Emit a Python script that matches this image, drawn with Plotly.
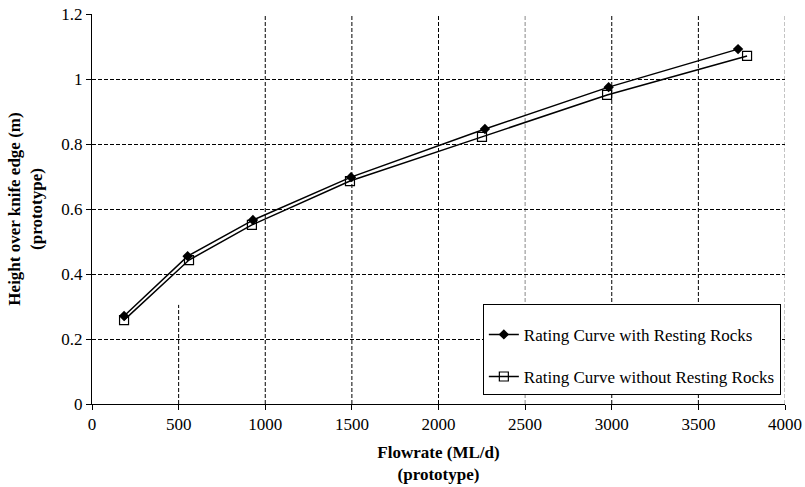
import plotly.graph_objects as go

# Rating curve measurements (prototype scale)
flow_with = [185, 552, 929, 1495, 2268, 2982, 3729]
height_with = [0.271, 0.455, 0.566, 0.698, 0.846, 0.975, 1.092]

flow_without = [185, 560, 923, 1489, 2251, 2973, 3781]
height_without = [0.258, 0.443, 0.551, 0.686, 0.822, 0.951, 1.071]

x_ticks = [0, 500, 1000, 1500, 2000, 2500, 3000, 3500, 4000]
y_ticks = [0, 0.2, 0.4, 0.6, 0.8, 1.0, 1.2]
y_tick_text = ["0", "0.2", "0.4", "0.6", "0.8", "1", "1.2"]

FONT = "Liberation Serif, Times New Roman, serif"
GRID_DASH = "4px,2px"

fig = go.Figure()
fig.add_trace(go.Scatter(
    x=flow_with, y=height_with, mode="lines+markers",
    name="Rating Curve with Resting Rocks", legendgroup="a",
    line=dict(color="black", width=1.5),
    marker=dict(symbol="diamond", size=8, color="black"),
))
fig.add_trace(go.Scatter(
    x=flow_without, y=height_without, mode="lines+markers",
    name="Rating Curve without Resting Rocks", legendgroup="b",
    line=dict(color="black", width=1.5),
    marker=dict(symbol="square-open", size=9, color="black", line=dict(width=1.2)),
))

# vertical dashed grid lines
for xv in x_ticks[1:]:
    col = "#888" if xv in (2500, 4000) else "black"
    y_top = 0.305 if xv == 500 else 1.2
    fig.add_shape(type="line", xref="x", yref="y", x0=xv, x1=xv, y0=0, y1=y_top,
                  line=dict(color=col, width=1, dash=GRID_DASH), layer="below")

fig.update_layout(
    width=805, height=487,
    margin=dict(l=92, r=20, t=14, b=83, autoexpand=False),
    paper_bgcolor="white", plot_bgcolor="white",
    font=dict(family=FONT, size=17, color="black"),
    showlegend=True,
    legend=dict(
        x=0.564, y=0.256, xanchor="left", yanchor="top",
        bgcolor="white", bordercolor="black", borderwidth=1,
        font=dict(family=FONT, size=17, color="black"),
        title=dict(text=" ", font=dict(size=9)),
        tracegroupgap=17, itemwidth=30,
    ),
    xaxis=dict(
        range=[0, 4000], tickvals=x_ticks, showgrid=False,
        showline=True, linecolor="black", linewidth=1,
        ticks="outside", ticklen=5, tickcolor="black",
        zeroline=False, automargin=False,
        tickfont=dict(size=17),
        title=dict(text="<b>Flowrate (ML/d)<br>(prototype)</b>",
                   font=dict(family=FONT, size=17), standoff=12),
    ),
    yaxis=dict(
        range=[0, 1.2], tickvals=y_ticks, ticktext=y_tick_text,
        showgrid=True, gridcolor="black", griddash=GRID_DASH, gridwidth=1,
        showline=True, linecolor="black", linewidth=1,
        ticks="outside", ticklen=5, tickcolor="black",
        zeroline=False, automargin=False,
        tickfont=dict(size=17),
        title=dict(text="<b>Height over knife edge (m)<br>(prototype)</b>",
                   font=dict(family=FONT, size=17), standoff=14),
    ),
)

fig.write_html("out.html")
